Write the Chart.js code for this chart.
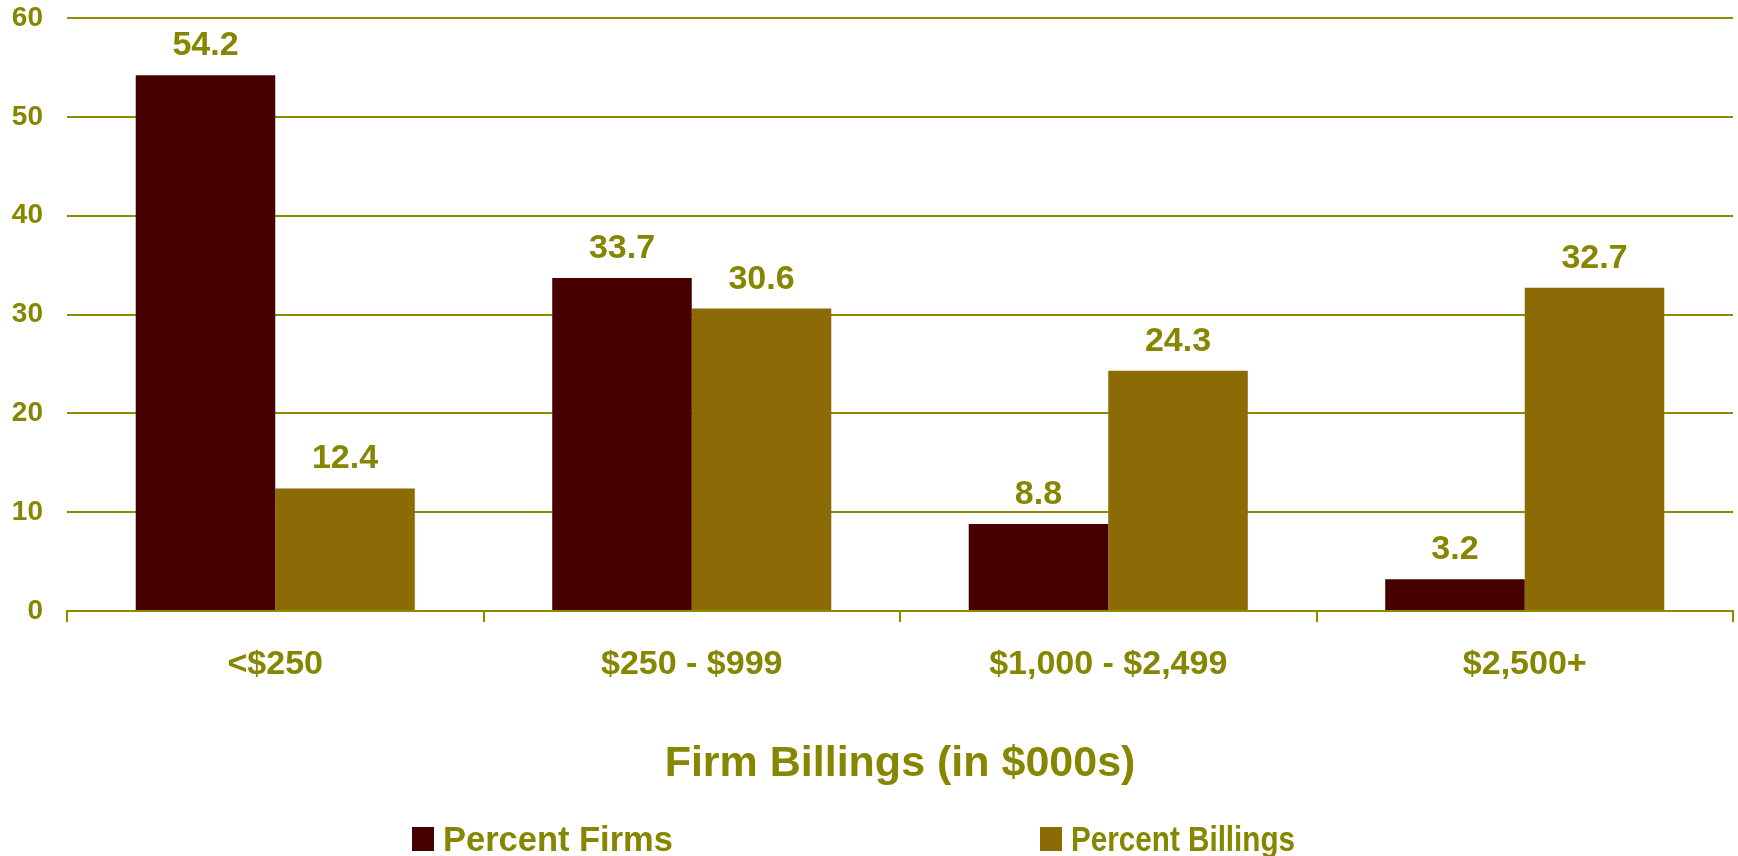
<!DOCTYPE html>
<html>
<head>
<meta charset="utf-8">
<script src="https://cdn.jsdelivr.net/npm/chart.js@4"></script>
<style>
  body { margin: 0; background: #fff; }
  #wrap { position: relative; width: 1738px; height: 856px; }
  #salesChart { position: absolute; left: 0; top: 0; }
  #legend { position: absolute; left: 0; top: 822px; width: 1738px; height: 34px;
            font-family: "Liberation Sans", Arial, sans-serif; font-weight: bold;
            font-size: 35px; color: #868600; }
  .item { position: absolute; top: 0; display: flex; align-items: center; height: 34px; }
  .box { width: 22px; height: 24px; margin-right: 9px; flex: none; }
  .txt { display: inline-block; white-space: nowrap; transform-origin: left center; }
</style>
</head>
<body>
<div id="wrap">
  <canvas id="salesChart" width="1738" height="856"></canvas>
  <div id="legend"></div>
</div>
<script>
const categories = ['<$250', '$250 - $999', '$1,000 - $2,499', '$2,500+'];
const seriesNames = ['Percent Firms', 'Percent Billings'];
const percentFirms = [54.2, 33.7, 8.8, 3.2];
const percentBillings = [12.4, 30.6, 24.3, 32.7];
const yTicks = [0, 10, 20, 30, 40, 50, 60];

const olive = '#868600';
const lineOlive = '#8c8c00';
const colors = ['#470000', '#8c6a05'];

Chart.defaults.font.family = '"Liberation Sans", Arial, sans-serif';
Chart.defaults.font.weight = 'bold';
Chart.defaults.color = olive;

// value labels above each bar
const valueLabels = {
    id: 'valueLabels',
    afterDatasetsDraw(chart) {
        const ctx = chart.ctx;
        ctx.save();
        ctx.font = 'bold 34px "Liberation Sans", Arial, sans-serif';
        ctx.fillStyle = olive;
        ctx.textAlign = 'center';
        ctx.textBaseline = 'alphabetic';
        chart.data.datasets.forEach((ds, i) => {
            chart.getDatasetMeta(i).data.forEach((bar, j) => {
                ctx.fillText(ds.data[j].toFixed(1), bar.x, bar.y - 20);
            });
        });
        ctx.restore();
    }
};

const ctx = document.getElementById('salesChart');
new Chart(ctx, {
    type: 'bar',
    data: {
        labels: categories,
        datasets: [
            { label: seriesNames[0], data: percentFirms, backgroundColor: colors[0] },
            { label: seriesNames[1], data: percentBillings, backgroundColor: colors[1] }
        ]
    },
    options: {
        responsive: false,
        animation: false,
        layout: { padding: { top: 18, right: 5, left: 0, bottom: 60 } },
        datasets: { bar: { categoryPercentage: 0.67, barPercentage: 1.0 } },
        plugins: {
            legend: { display: false },
            tooltip: { enabled: false }
        },
        scales: {
            x: {
                afterFit: s => { s.height = 185; s.paddingLeft = 0; s.paddingRight = 0; },
                grid: { drawOnChartArea: false, drawTicks: true, tickLength: 11, color: lineOlive, lineWidth: 2 },
                border: { color: lineOlive, width: 2 },
                ticks: { font: { size: 34, weight: 'bold' }, color: olive, padding: 22 },
                title: {
                    display: true,
                    text: 'Firm Billings (in $000s)',
                    font: { size: 43, weight: 'bold' },
                    color: olive,
                    padding: { top: 0, bottom: 6 }
                }
            },
            y: {
                min: 0,
                max: 60,
                afterFit: s => { s.width = 67; s.paddingTop = 0; s.paddingBottom = 0; },
                afterBuildTicks: s => { s.ticks = yTicks.map(v => ({ value: v })); },
                grid: { color: lineOlive, lineWidth: 2, drawTicks: false },
                border: { display: false },
                ticks: { font: { size: 28, weight: 'bold' }, color: olive, padding: 24 }
            }
        }
    },
    plugins: [valueLabels]
});

// legend (entries squeezed to the widths of the original)
const legend = document.getElementById('legend');
const legendX = [412, 1040];
const legendTextW = [230, 224];
seriesNames.forEach((name, i) => {
    const item = document.createElement('div');
    item.className = 'item';
    item.style.left = legendX[i] + 'px';
    const box = document.createElement('span');
    box.className = 'box';
    box.style.background = colors[i];
    const txt = document.createElement('span');
    txt.className = 'txt';
    txt.textContent = name;
    item.appendChild(box);
    item.appendChild(txt);
    legend.appendChild(item);
    const w = txt.getBoundingClientRect().width;
    if (w > 0) txt.style.transform = 'scaleX(' + (legendTextW[i] / w).toFixed(3) + ')';
});
</script>
</body>
</html>
